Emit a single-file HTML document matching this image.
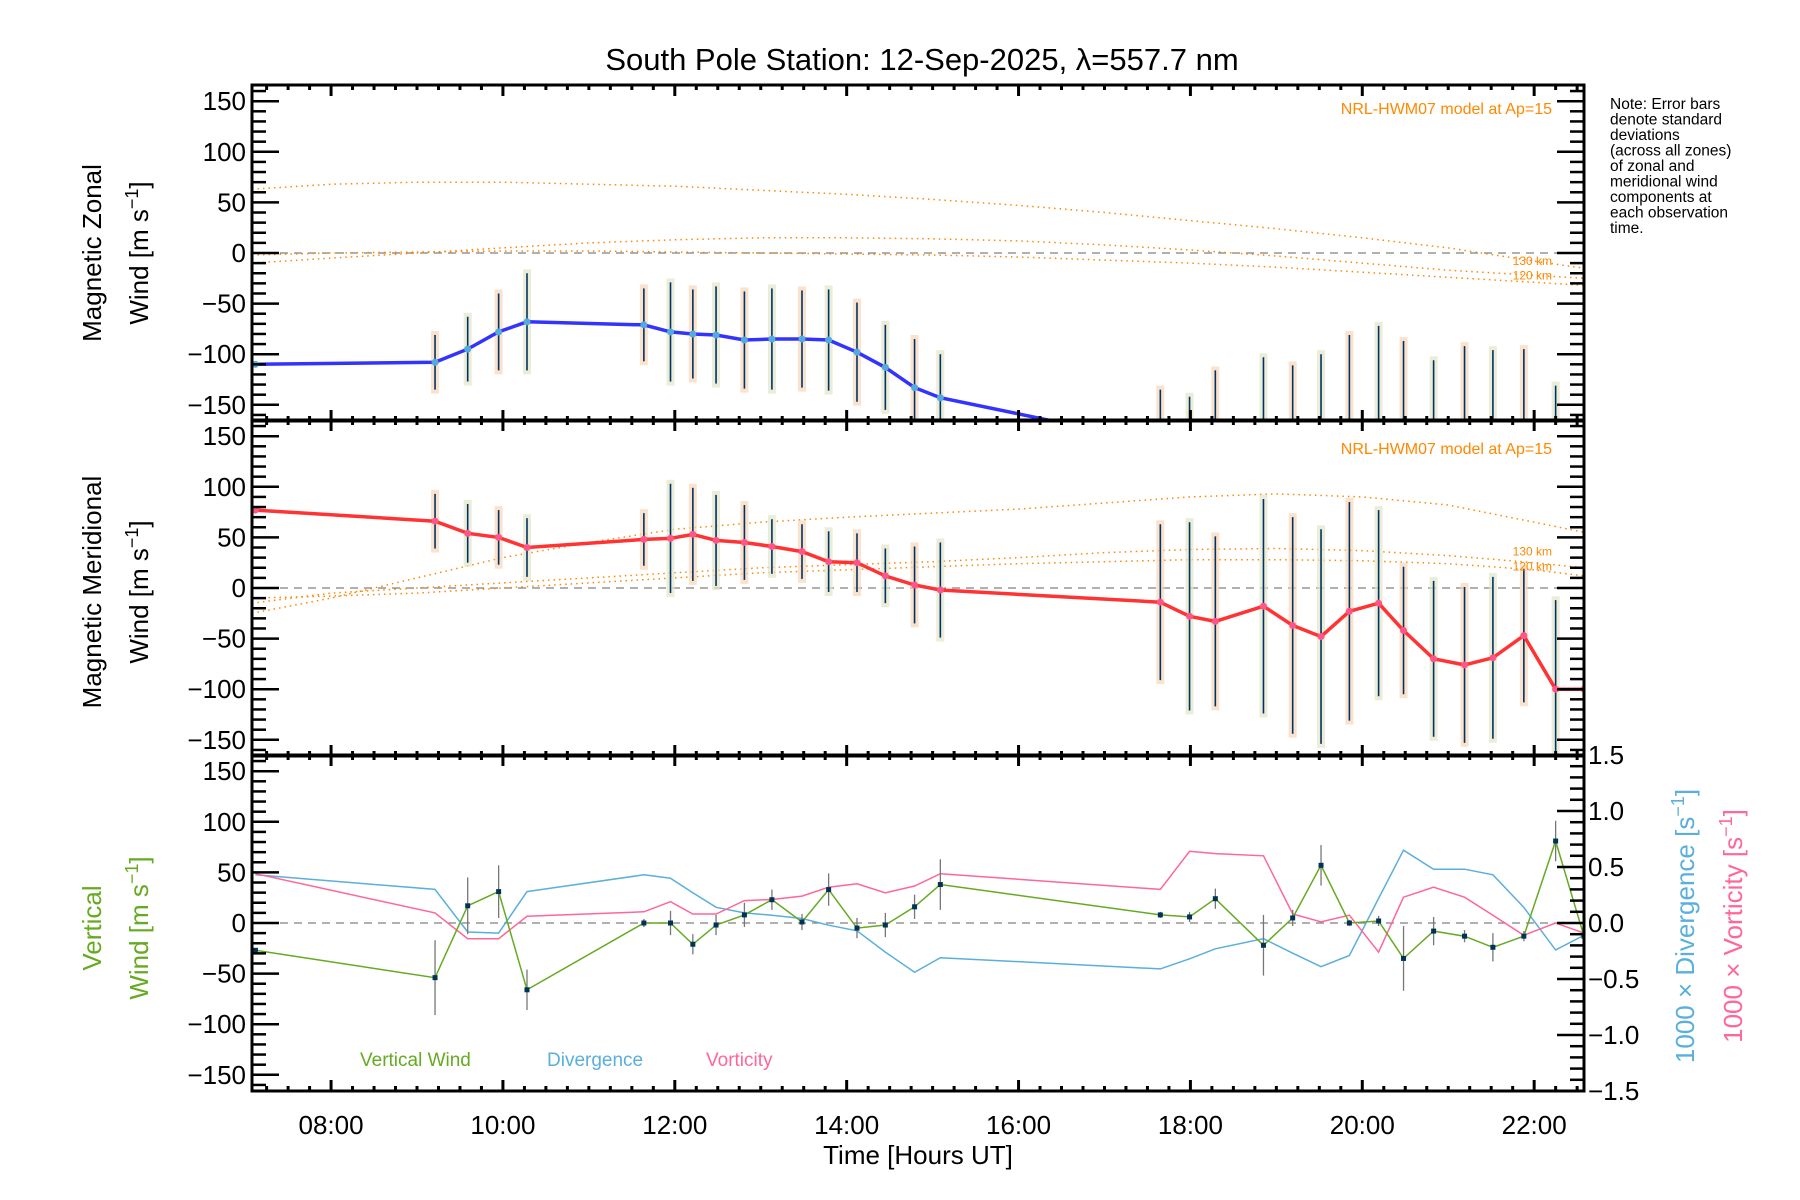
<!DOCTYPE html>
<html><head><meta charset="utf-8"><style>
html,body{margin:0;padding:0;background:#fff;width:1800px;height:1200px;overflow:hidden}
svg{display:block;font-family:"Liberation Sans","DejaVu Sans",sans-serif}
</style></head><body>
<svg id="chart" width="1800" height="1200" viewBox="0 0 1800 1200" xmlns="http://www.w3.org/2000/svg">
<text x="922" y="70" font-size="31" text-anchor="middle" fill="#000">South Pole Station: 12-Sep-2025, λ=557.7 nm</text>
<g font-size="15.5" fill="#000">
<text x="1610" y="109">Note: Error bars</text><text x="1610" y="124.5">denote standard</text><text x="1610" y="140">deviations</text><text x="1610" y="155.5">(across all zones)</text><text x="1610" y="171">of zonal and</text><text x="1610" y="186.5">meridional wind</text><text x="1610" y="202">components at</text><text x="1610" y="217.5">each observation</text><text x="1610" y="233">time.</text></g>
<g id="plots"></g>
<text x="918" y="1164" font-size="26" text-anchor="middle">Time [Hours UT]</text>
</svg>
<script>
// ---- data ----
const times=[7.12,9.21,9.59,9.95,10.28,11.64,11.95,12.21,12.48,12.81,13.13,13.48,13.79,14.12,14.45,14.79,15.09,17.65,17.99,18.29,18.85,19.19,19.52,19.85,20.19,20.48,20.83,21.19,21.52,21.88,22.25,22.58];
const zonal=[-110,-108,-95,-78,-68,-71,-78,-80,-81,-86,-85,-85,-86,-98,-113,-133,-143,-188,-200,-200,-200,-200,-200,-200,-200,-200,-200,-200,-200,-200,-200,-200];
const zonalSd=[0,27,32,38,48,36,49,44,48,48,50,48,50,49,42,48,43,53,58,84,97,89,100,119,128,113,94,108,104,105,69,0];
const merid=[77,66,54,50,40,48,49,53,47,45,41,36,26,25,12,3,-2,-14,-28,-33,-18,-37,-48,-23,-15,-42,-70,-76,-69,-47,-100,-100];
const meridSd=[0,27,29,27,29,26,54,46,45,37,27,27,30,29,27,38,47,77,93,84,106,107,106,108,92,63,77,77,80,66,88,0];
const vert=[-27,-54,17,31,-66,0,0,-21,-2,8,23,1,33,-5,-2,16,38,8,6,24,-22,5,57,0,2,-35,-8,-13,-24,-13,81,-13];
const vertSd=[0,37,28,26,20,4,12,10,10,12,10,8,16,10,12,12,25,3,5,10,30,8,20,3,5,32,14,6,14,5,20,0];
const diverg=[0.43,0.30,-0.08,-0.09,0.28,0.43,0.40,0.27,0.14,0.09,0.07,0.04,-0.02,-0.07,-0.26,-0.44,-0.31,-0.41,-0.32,-0.23,-0.14,-0.27,-0.39,-0.29,0.22,0.65,0.48,0.48,0.43,0.14,-0.24,-0.11];
const vortic=[0.44,0.09,-0.14,-0.14,0.06,0.10,0.19,0.08,0.08,0.20,0.21,0.24,0.32,0.35,0.27,0.33,0.44,0.30,0.64,0.62,0.60,0.08,0.01,0.07,-0.26,0.23,0.32,0.23,0.07,-0.11,0,-0.09];
const modelT=[7.08,8,9,10,11,12,13,14,15,16,17,18,19,20,21,22,22.58];
const zonA=[63,68,70,70,68,66,62,58,53,47,40,32,24,15,5,-8,-15];
const zon130=[-10,-5,0,5,10,13,15,15,14,12,8,3,-3,-10,-17,-22,-25];
const zon120=[-2,0,1,2,2,1,0,-1,-2,-4,-7,-10,-14,-19,-24,-29,-32];
const merA=[-25,-10,10,30,45,58,65,70,74,78,84,90,93,90,82,65,55];
const mer130=[-15,-5,0,5,10,15,20,23,26,30,35,38,39,37,32,25,20];
const mer120=[-10,-8,-5,0,5,10,15,18,21,24,26,28,28,27,24,18,12];
const yTicks=[-150,-100,-50,0,50,100,150];
const rTicks=[-1.5,-1.0,-0.5,0.0,0.5,1.0,1.5];
const xTickHours=[8,10,12,14,16,18,20,22];
// ---- layout ----
const L=252,R=1584,XMIN=7.08,XMAX=22.58,YMAX=166;
const tops=[85,420,755],H=336;
const NS="http://www.w3.org/2000/svg";
const root=document.getElementById('plots');
function X(t){return L+(t-XMIN)/(XMAX-XMIN)*(R-L);}
function Yf(i){const top=tops[i];return v=>top+H/2-v/YMAX*(H/2);}
function YR(v){return tops[2]+H/2-v/1.5*(H/2);}
function el(tag,attrs,parent){const e=document.createElementNS(NS,tag);for(const k in attrs)e.setAttribute(k,attrs[k]);(parent||root).appendChild(e);return e;}
function path(xs,ys){return xs.map((x,i)=>(i?'L':'M')+x.toFixed(1)+','+ys[i].toFixed(1)).join('');}
const defs=el('defs',{});
tops.forEach((t,i)=>{const c=el('clipPath',{id:'clip'+i},defs);el('rect',{x:L,y:t,width:R-L,height:H},c);});

function panel(i){
  const g=el('g',{});
  
  
  const Y=Yf(i);
  const inner=el('g',{'clip-path':'url(#clip'+i+')'},g);
  const zl=el('line',{x1:L,x2:R,y1:Y(0),y2:Y(0),stroke:'#808080','stroke-width':1.3,'stroke-dasharray':'8,6'},inner);
  
  
  return {g,inner,Y};
}
function axes(g,i,right){
  const top=tops[i],bot=top+H,Y=Yf(i);
  const box=el('rect',{x:L,y:top,width:R-L,height:H,fill:'none',stroke:'#000','stroke-width':3},g);
  
  
  for(let v=-160;v<=160;v+=10){const y=Y(v);const maj=v%50===0;
    el('line',{x1:L,x2:L+(maj?27:14),y1:y,y2:y,stroke:'#000','stroke-width':2.5},g);
    if(!right)el('line',{x1:R,x2:R-(maj?27:14),y1:y,y2:y,stroke:'#000','stroke-width':2.5},g);}
  for(let t=7.25;t<XMAX;t+=0.25){const x=X(t);const maj=Math.abs(t/2-Math.round(t/2))<1e-6;
    el('line',{x1:x,x2:x,y1:top,y2:top+(maj?11:5),stroke:'#000','stroke-width':3},g);
    el('line',{x1:x,x2:x,y1:bot,y2:bot-(maj?11:5),stroke:'#000','stroke-width':3},g);}
  yTicks.forEach(v=>{const tx=el('text',{x:L-6,y:Y(v)+9,'font-size':26,'text-anchor':'end'},g);tx.textContent=(v<0?'−':'')+Math.abs(v);
    
    });
}
function model(inner,Y,arr,label){
  const p=el('path',{d:path(modelT.map(X),arr.map(Y)),fill:'none',stroke:'#ff8800','stroke-width':1.5,'stroke-dasharray':'1.5,4'},inner);
  
  
}
function bars(inner,Y,vals,sds){
  times.forEach((t,k)=>{if(!sds[k])return;const x=X(t);
    const bg=el('rect',{x:x-4,y:Y(vals[k]+sds[k])-4,width:8,height:(Y(vals[k]-sds[k])-Y(vals[k]+sds[k]))+8,fill:k%2?'#f9d6b8':'#e4e6c8',opacity:0.7},inner);
    
    
    const b=el('line',{x1:x,x2:x,y1:Y(vals[k]+sds[k]),y2:Y(vals[k]-sds[k]),stroke:'#003366','stroke-width':1.6},inner);
    
    });
}
function kmLabels(g,Y,v1,v2){
  [['130 km',v1],['120 km',v2]].forEach(([s,v])=>{const t=el('text',{x:1552,y:Y(v)+4,'font-size':12,'text-anchor':'end',fill:'#ff8800'},g);t.textContent=s;
    
    });
}
function modelTitle(g,y){const t=el('text',{x:1552,y:y,'font-size':16,'text-anchor':'end',fill:'#ff8800'},g);t.textContent='NRL-HWM07 model at Ap=15';
  
  }

// Panel 1 zonal
{const P=panel(0);
 model(P.inner,P.Y,zonA,'zonal-a');model(P.inner,P.Y,zon130,'zonal-130');model(P.inner,P.Y,zon120,'zonal-120');
 bars(P.inner,P.Y,zonal,zonalSd);
 const ln=el('path',{d:path(times.map(X),zonal.map(P.Y)),fill:'none',stroke:'#3333ff','stroke-width':3.5},P.inner);
 
 
 times.forEach((t,k)=>{const c=el('circle',{cx:X(t),cy:P.Y(zonal[k]),r:3.5,fill:'#55aadd'},P.inner);
  
  });
 modelTitle(P.g,114);kmLabels(P.g,P.Y,-8,-22);
 axes(P.g,0,false);
 const a=el('text',{transform:'translate(101,253) rotate(-90)','font-size':26,'text-anchor':'middle'},P.g);a.textContent='Magnetic Zonal';
 
 
 const b=el('text',{transform:'translate(148,253) rotate(-90)','font-size':26,'text-anchor':'middle'},P.g);b.innerHTML='Wind [m s<tspan dy="-10" font-size="18">−1</tspan><tspan dy="10">]</tspan>';
 
 }
// Panel 2 meridional
{const P=panel(1);
 model(P.inner,P.Y,merA,'merid-a');model(P.inner,P.Y,mer130,'merid-130');model(P.inner,P.Y,mer120,'merid-120');
 bars(P.inner,P.Y,merid,meridSd);
 const ln=el('path',{d:path(times.map(X),merid.map(P.Y)),fill:'none',stroke:'#ff3333','stroke-width':3.5},P.inner);
 
 
 times.forEach((t,k)=>{const c=el('circle',{cx:X(t),cy:P.Y(merid[k]),r:3.5,fill:'#ff5588'},P.inner);
  
  });
 modelTitle(P.g,454);kmLabels(P.g,P.Y,36,21);
 axes(P.g,1,false);
 const a=el('text',{transform:'translate(101,592) rotate(-90)','font-size':26,'text-anchor':'middle'},P.g);a.textContent='Magnetic Meridional';
 
 
 const b=el('text',{transform:'translate(148,592) rotate(-90)','font-size':26,'text-anchor':'middle'},P.g);b.innerHTML='Wind [m s<tspan dy="-10" font-size="18">−1</tspan><tspan dy="10">]</tspan>';
 
 }
// Panel 3 vertical / div / vort
{const P=panel(2);
 const dl=el('path',{d:path(times.map(X),diverg.map(YR)),fill:'none',stroke:'#5aafdc','stroke-width':1.5},P.inner);
 
 
 const vl=el('path',{d:path(times.map(X),vortic.map(YR)),fill:'none',stroke:'#ff6699','stroke-width':1.5},P.inner);
 
 
 times.forEach((t,k)=>{if(!vertSd[k])return;const e=el('line',{x1:X(t),x2:X(t),y1:P.Y(vert[k]+vertSd[k]),y2:P.Y(vert[k]-vertSd[k]),stroke:'#777','stroke-width':1.3},P.inner);
  
  });
 const gl=el('path',{d:path(times.map(X),vert.map(P.Y)),fill:'none',stroke:'#66aa22','stroke-width':1.5},P.inner);
 
 
 times.forEach((t,k)=>{const c=el('rect',{x:X(t)-2.5,y:P.Y(vert[k])-2.5,width:5,height:5,fill:'#003355'},P.inner);
  
  });
 axes(P.g,2,true);
 for(let v=-1.5;v<=1.501;v+=0.1){const y=YR(v);const maj=Math.abs(v*2-Math.round(v*2))<1e-6;
  el('line',{x1:R,x2:R-(maj?27:14),y1:y,y2:y,stroke:'#000','stroke-width':2.5},P.g);}
 rTicks.forEach(v=>{const t=el('text',{x:R+4,y:YR(v)+9,'font-size':26},P.g);t.textContent=(v<0?'−':'')+Math.abs(v).toFixed(1);
  
  });
 xTickHours.forEach(h=>{const t=el('text',{x:X(h),y:1134,'font-size':26,'text-anchor':'middle'},P.g);t.textContent=(h<10?'0':'')+h+':00';
  
  });
 const a=el('text',{transform:'translate(101,928) rotate(-90)','font-size':26,'text-anchor':'middle',fill:'#66aa22'},P.g);a.textContent='Vertical';
 
 
 const b=el('text',{transform:'translate(148,928) rotate(-90)','font-size':26,'text-anchor':'middle',fill:'#66aa22'},P.g);b.innerHTML='Wind [m s<tspan dy="-10" font-size="18">−1</tspan><tspan dy="10">]</tspan>';
 
 
 const c=el('text',{transform:'translate(1694,926) rotate(-90)','font-size':26,'text-anchor':'middle',fill:'#5aafdc'},P.g);c.innerHTML='1000 × Divergence [s<tspan dy="-10" font-size="18">−1</tspan><tspan dy="10">]</tspan>';
 
 
 const d=el('text',{transform:'translate(1742,926) rotate(-90)','font-size':26,'text-anchor':'middle',fill:'#ff6699'},P.g);d.innerHTML='1000 × Vorticity [s<tspan dy="-10" font-size="18">−1</tspan><tspan dy="10">]</tspan>';
 
 
 [['Vertical Wind',360,'#66aa22','legend-vertical-wind'],['Divergence',547,'#5aafdc','legend-divergence'],['Vorticity',706,'#ff6699','legend-vorticity']].forEach(([s,x,col,n])=>{
  const t=el('text',{x:x,y:1066,'font-size':19,fill:col},P.g);t.textContent=s;
  
  });}
</script>
</body></html>
